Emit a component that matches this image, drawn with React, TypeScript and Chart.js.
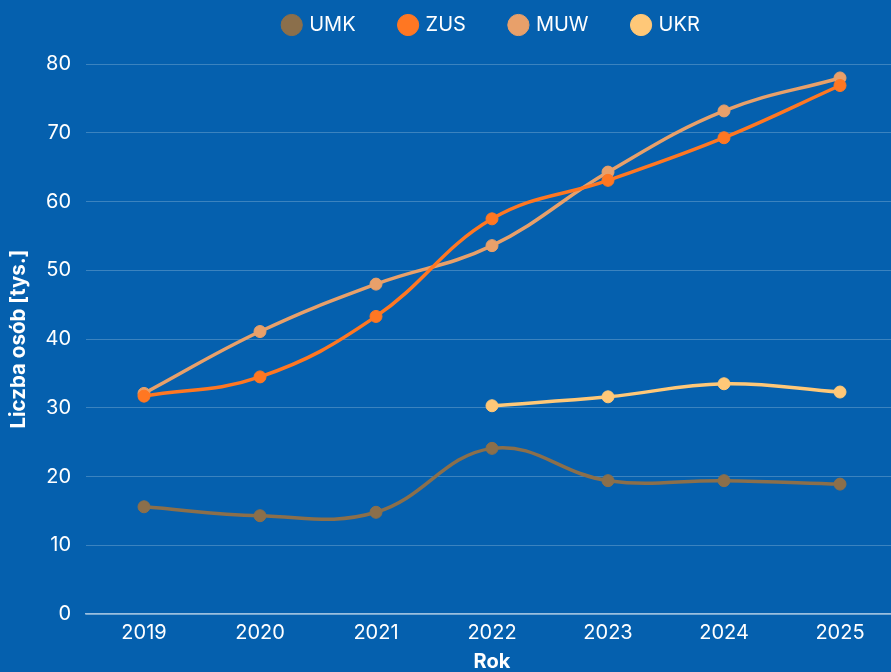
import React, { useEffect, useRef } from "react";
import { Chart, registerables } from "chart.js";

Chart.register(...registerables);

const years = ["2019", "2020", "2021", "2022", "2023", "2024", "2025"];
const umk = [15.6, 14.3, 14.8, 24.1, 19.4, 19.4, 18.9];
const zus = [31.7, 34.5, 43.3, 57.5, 63.1, 69.3, 76.9];
const muw = [32.1, 41.1, 48.0, 53.6, 64.3, 73.2, 78.0];
const ukr = [null, null, null, 30.3, 31.6, 33.5, 32.3];

const BG = "#0560ae";
const FONT = "Inter, 'Noto Sans', sans-serif";

const bgPlugin = {
  id: "bgFill",
  beforeDraw(chart: any) {
    const ctx = chart.ctx;
    ctx.save();
    ctx.fillStyle = BG;
    ctx.fillRect(0, 0, chart.width, chart.height);
    ctx.restore();
  },
};

function ds(label: string, data: (number | null)[], color: string) {
  return {
    label,
    data,
    borderColor: color,
    backgroundColor: color,
    pointBackgroundColor: color,
    pointBorderColor: color,
    borderWidth: 3.5,
    pointRadius: 6,
    pointBorderWidth: 1,
    tension: 0.4,
    fill: false,
  };
}

export default function App() {
  const ref = useRef<HTMLCanvasElement>(null);
  useEffect(() => {
    if (!ref.current) return;
    const chart = new Chart(ref.current, {
      type: "line",
      data: {
        labels: years,
        datasets: [
          ds("UMK", umk, "#8b6f4b"),
          ds("ZUS", zus, "#ff7722"),
          ds("MUW", muw, "#e8a06a"),
          ds("UKR", ukr, "#ffc878"),
        ],
      },
      options: {
        animation: false,
        responsive: false,
        layout: { padding: 0 },
        plugins: {
          legend: {
            display: true,
            position: "top",
            fullSize: false,
            weight: 3000,
            labels: {
              usePointStyle: true,
              pointStyle: "circle",
              boxWidth: 15,
              boxHeight: 15,
              padding: 45,
              color: "#ffffff",
              font: { family: FONT, size: 20 },
            },
          },
          title: {
            display: true,
            text: " ",
            position: "top",
            fullSize: false,
            weight: 500,
            font: { size: 1 },
            padding: { top: 0, bottom: 18 },
            color: "rgba(0,0,0,0)",
          },
          tooltip: { enabled: false },
        },
        scales: {
          x: {
            offset: true,
            grid: { display: false, drawTicks: false },
            border: { display: true, color: "rgba(255,255,255,0.6)", width: 1.5 },
            ticks: { color: "#ffffff", padding: 7, font: { family: FONT, size: 20 } },
            title: {
              display: true,
              text: "Rok",
              color: "#ffffff",
              font: { family: FONT, size: 20, weight: "bold" },
              padding: { top: 4, bottom: 4 },
            },
            afterFit(scale: any) {
              scale.height = 64;
              scale.paddingRight = 0;
              scale.paddingLeft = 0;
            },
          },
          y: {
            min: 0,
            max: 80,
            ticks: { stepSize: 10, color: "#ffffff", padding: 15, font: { family: FONT, size: 20 } },
            grid: { color: "rgba(255,255,255,0.22)", drawTicks: false, lineWidth: 1 },
            border: { display: false },
            title: {
              display: true,
              text: "Liczba osób [tys.]",
              color: "#ffffff",
              font: { family: FONT, size: 20.5, weight: "bold" },
              padding: { top: 7, bottom: 8 },
            },
            afterFit(scale: any) {
              scale.width = 86;
              scale.paddingTop = 94;
            },
          },
        },
      },
      plugins: [bgPlugin],
    } as any);
    return () => chart.destroy();
  }, []);
  return (
    <div style={{ position: "relative", width: 891, height: 672, overflow: "hidden", background: BG }}>
      <style>{`body{margin:0;background:${BG};}`}</style>
      <canvas
        ref={ref}
        width={905}
        height={708}
        style={{ position: "absolute", left: 0, top: -30, width: 905, height: 708 }}
      />
    </div>
  );
}
